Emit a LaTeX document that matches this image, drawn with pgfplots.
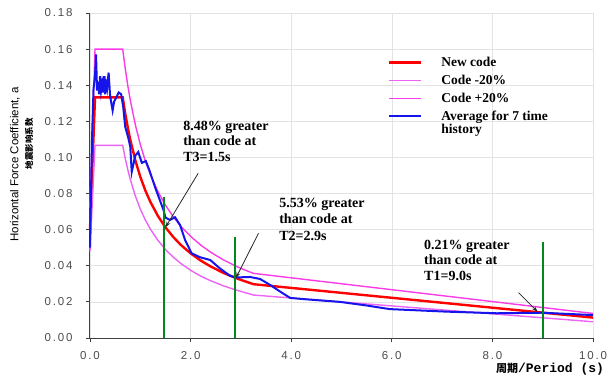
\documentclass[border=0pt]{standalone}
\usepackage{pgfplots}
\pgfplotsset{compat=1.18}
\usepackage{pgfplotstable}
\usepackage{fontspec}
\setmainfont{Liberation Serif}
\newfontfamily\arial{Liberation Sans}
\newfontfamily\ticksf[LetterSpace=16]{Liberation Sans}
\newfontfamily\monob{Liberation Mono}
\newfontfamily\cjk{Noto Sans CJK SC}
\usetikzlibrary{arrows.meta}
\definecolor{codered}{RGB}{255,0,0}
\definecolor{codelo}{RGB}{235,100,245}
\definecolor{codeup}{RGB}{250,60,230}
\definecolor{avgblue}{RGB}{20,20,235}
\definecolor{tgreen}{RGB}{0,135,30}

\pgfplotstableread{
T red up lo
0.00 0.0600 0.0720 0.0480
0.10 0.1333 0.1600 0.1067
0.65 0.1333 0.1600 0.1067
0.70 0.1244 0.1493 0.0995
0.75 0.1167 0.1400 0.0934
0.80 0.1099 0.1319 0.0879
0.90 0.0985 0.1182 0.0788
1.00 0.0893 0.1072 0.0714
1.10 0.0817 0.0980 0.0654
1.20 0.0754 0.0905 0.0603
1.35 0.0676 0.0811 0.0541
1.50 0.0613 0.0736 0.0490
1.65 0.0561 0.0673 0.0449
1.80 0.0517 0.0620 0.0414
2.00 0.0469 0.0563 0.0375
2.20 0.0429 0.0515 0.0343
2.40 0.0396 0.0475 0.0317
2.65 0.0361 0.0433 0.0289
2.90 0.0332 0.0398 0.0266
3.05 0.0317 0.0380 0.0254
3.25 0.0298 0.0358 0.0238
10.00 0.0113 0.0136 0.0090
}\codetab

\pgfplotstableread{
T avg
0.00 0.050
0.04 0.110
0.07 0.138
0.10 0.145
0.12 0.157
0.14 0.137
0.16 0.142
0.18 0.135
0.20 0.145
0.22 0.137
0.24 0.141
0.26 0.136
0.28 0.145
0.30 0.135
0.32 0.141
0.34 0.138
0.37 0.147
0.40 0.134
0.45 0.126
0.48 0.131
0.52 0.133
0.57 0.136
0.62 0.135
0.66 0.128
0.70 0.117
0.76 0.111
0.80 0.106
0.83 0.092
0.90 0.101
0.96 0.103
1.03 0.097
1.11 0.098
1.18 0.093
1.30 0.083
1.46 0.071
1.50 0.0667
1.59 0.0654
1.69 0.0669
1.79 0.0626
1.89 0.0543
2.02 0.0469
2.19 0.0447
2.39 0.0432
2.58 0.0386
2.78 0.0345
2.90 0.0335
2.98 0.0336
3.18 0.0338
3.38 0.0327
3.58 0.0294
3.78 0.0257
3.98 0.0222
4.31 0.0214
4.97 0.0200
5.50 0.0180
5.96 0.0160
7.09 0.0146
8.09 0.0137
8.98 0.0140
10.00 0.0127
}\avgtab

\begin{document}
\begin{tikzpicture}
\useasboundingbox (-90bp,-40bp) rectangle (521bp,338bp);
\begin{axis}[
  scale only axis, width=503bp, height=325bp,
  at={(0,0)}, anchor=south west,
  xmin=0, xmax=10, ymin=0, ymax=0.18,
  xtick={0,2,4,6,8,10},
  ytick={0,0.02,0.04,0.06,0.08,0.10,0.12,0.14,0.16,0.18},
  axis lines=left,
  axis line style={-, draw=black!75, line width=1bp},
  tick align=outside, major tick length=4bp,
  tick style={black!75, line width=0.8bp},
  grid=major, major grid style={gray!22, line width=0.6bp},
  /pgf/number format/assume math mode=true,
  xticklabel style={/pgf/number format/.cd, fixed, fixed zerofill, precision=1, /tikz/.cd,
     font=\ticksf\fontsize{11.5bp}{13bp}\selectfont, text=black!70, yshift=-6bp},
  yticklabel style={/pgf/number format/.cd, fixed, fixed zerofill, precision=2, /tikz/.cd,
     font=\ticksf\fontsize{11.5bp}{13bp}\selectfont, text=black!70, xshift=-10bp},
  clip=false,
  legend cell align=left,
  legend style={draw=none, fill=none, at={(rel axis cs:0.592,0.868)}, anchor=north west,
     inner sep=0pt, row sep=5bp,
     font=\bfseries\fontsize{13.5bp}{13.5bp}\selectfont,
     nodes={inner sep=1bp},
     /tikz/every odd column/.append style={column sep=18bp}},
  legend image code/.code={\draw[#1] (0bp,0bp) -- (32bp,0bp);},
]
\addplot[codered, line width=2.4bp] table[x=T, y=red] {\codetab};
\addlegendentry{New code}
\addplot[codelo, line width=1.4bp] table[x=T, y=lo] {\codetab};
\addlegendentry{Code -20\%}
\addplot[codeup, line width=1.4bp] table[x=T, y=up] {\codetab};
\addlegendentry{Code +20\%}
\addplot[avgblue, line width=2bp] table[x=T, y=avg] {\avgtab};
\addlegendentry{\begin{tabular}[t]{@{}l@{}}Average for 7 time\\history\end{tabular}}
\addplot[tgreen, line width=2bp, forget plot] coordinates {(1.47,0) (1.47,0.078)};
\addplot[tgreen, line width=2bp, forget plot] coordinates {(2.88,0) (2.88,0.0558)};
\addplot[tgreen, line width=2bp, forget plot] coordinates {(9.0,0) (9.0,0.0534)};

\draw[black!85, line width=0.8bp, -{Stealth[length=6bp,width=4bp]}] (axis cs:2.15,0.0912) -- (axis cs:1.50,0.0613);
\draw[black!85, line width=0.8bp, -{Stealth[length=6bp,width=4bp]}] (axis cs:3.35,0.0580) -- (axis cs:2.90,0.0332);
\draw[black!85, line width=0.8bp, -{Stealth[length=6bp,width=4bp]}] (axis cs:8.52,0.0251) -- (axis cs:8.90,0.0145);

\node[anchor=north west, inner sep=0pt, align=left, font=\bfseries\fontsize{14bp}{15.5bp}\selectfont]
  at (axis cs:1.85,0.1202) {8.48\% greater\\than code at\\T3=1.5s};
\node[anchor=north west, inner sep=0pt, align=left, font=\bfseries\fontsize{14bp}{16.5bp}\selectfont]
  at (axis cs:3.76,0.0776) {5.53\% greater\\than code at\\T2=2.9s};
\node[anchor=north west, inner sep=0pt, align=left, font=\bfseries\fontsize{14bp}{15.5bp}\selectfont]
  at (axis cs:6.64,0.0543) {0.21\% greater\\than code at\\T1=9.0s};

\node[rotate=90, inner sep=0pt, font=\arial\fontsize{11.5bp}{13bp}\selectfont]
  at (axis description cs:-0.149,0.534) {Horizontal Force Coefficient, a};
\node[rotate=90, inner sep=0pt, font=\cjk\fontsize{8.5bp}{9bp}\selectfont]
  at (axis description cs:-0.121,0.597) {\textbf{地震影响系数}};
\node[anchor=base west, inner sep=0pt]
  at (axis description cs:0.807,-0.1065) {{\cjk\bfseries\fontsize{11bp}{12bp}\selectfont 周期}{\monob\bfseries\fontsize{13bp}{14bp}\selectfont /Period (s)}};
\end{axis}
\end{tikzpicture}
\end{document}
